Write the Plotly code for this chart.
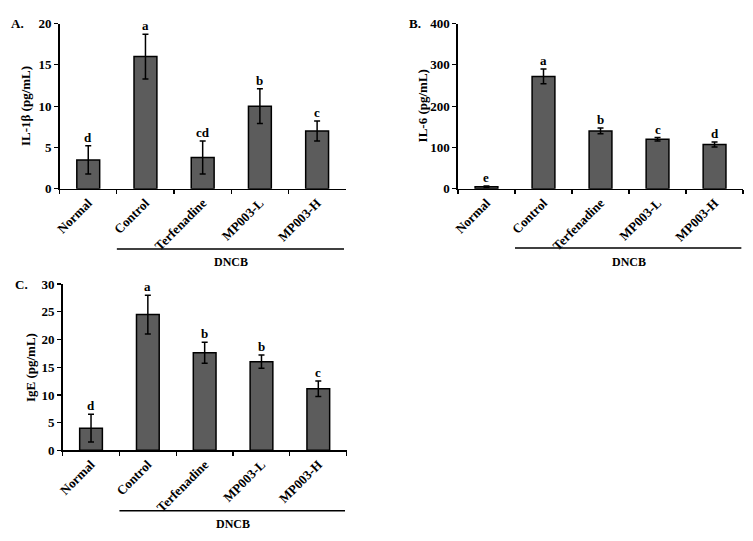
import plotly.graph_objects as go

W, H = 753, 541

categories = ["Normal", "Control", "Terfenadine", "MP003-L", "MP003-H"]

il1b_values = [3.5, 16.0, 3.8, 10.0, 7.0]
il1b_errors = [1.7, 2.7, 2.0, 2.1, 1.2]
il1b_letters = ["d", "a", "cd", "b", "c"]

il6_values = [5, 272, 140, 120, 107]
il6_errors = [2, 18, 7, 4, 6]
il6_letters = ["e", "a", "b", "c", "d"]

ige_values = [4.0, 24.5, 17.6, 16.0, 11.1]
ige_errors = [2.5, 3.5, 1.9, 1.2, 1.4]
ige_letters = ["d", "a", "b", "b", "c"]

y_ticks_a = [0, 5, 10, 15, 20]
y_ticks_b = [0, 100, 200, 300, 400]
y_ticks_c = [0, 5, 10, 15, 20, 25, 30]

FONT = "Liberation Serif"
BAR = "#5c5c5c"

def px_x(p):
    return p / W

def px_y(p):
    return 1 - p / H

panels = [
    dict(vals=il1b_values, errs=il1b_errors, letters=il1b_letters, ticks=y_ticks_a,
         title="IL-1β (pg/mL)", label="A.", xd=[55, 343], yd=[17, 187],
         line_y=249, text_y=262, label_xy=(13, 17), title_x=20),
    dict(vals=il6_values, errs=il6_errors, letters=il6_letters, ticks=y_ticks_b,
         title="IL-6 (pg/mL)", label="B.", xd=[456, 743], yd=[17, 187],
         line_y=248, text_y=262, label_xy=(413, 17), title_x=420),
    dict(vals=ige_values, errs=ige_errors, letters=ige_letters, ticks=y_ticks_c,
         title="IgE (pg/mL)", label="C.", xd=[58, 344], yd=[285, 456],
         line_y=518, text_y=532, label_xy=(17, 285), title_x=25),
]

fig = go.Figure()
layout = dict(
    width=W, height=H, margin=dict(l=0, r=0, t=0, b=0),
    plot_bgcolor="white", paper_bgcolor="white", showlegend=False,
    font=dict(family=FONT, size=13, color="black"),
)
annotations = []
shapes = []
tfont = dict(family=FONT, size=13, color="black", weight="bold")

for i, p in enumerate(panels, start=1):
    xa = "x" if i == 1 else f"x{i}"
    ya = "y" if i == 1 else f"y{i}"
    fig.add_trace(go.Bar(
        x=categories, y=p["vals"], xaxis=xa, yaxis=ya,
        marker=dict(color=BAR, line=dict(color="black", width=1.5)),
        width=0.4,
        error_y=dict(type="data", array=p["errs"], visible=True,
                     color="black", thickness=1.5, width=3),
    ))
    top = p["ticks"][-1]
    layout[f"xaxis{'' if i == 1 else i}"] = dict(
        domain=[px_x(p["xd"][0]), px_x(p["xd"][1])], anchor=ya,
        type="category", range=[-0.5, 4.5], tickson="boundaries",
        ticks="outside", ticklen=4, tickwidth=1.2, tickcolor="black",
        showline=True, linecolor="black", linewidth=1.5,
        tickangle=-45, tickfont=tfont,
        showgrid=False, fixedrange=True,
    )
    layout[f"yaxis{'' if i == 1 else i}"] = dict(
        domain=[px_y(p["yd"][1]), px_y(p["yd"][0])], anchor=xa,
        range=[0, top], tickvals=p["ticks"],
        ticks="outside", ticklen=4, tickwidth=1.2, tickcolor="black",
        showline=True, linecolor="black", linewidth=1.5,
        tickfont=tfont,
        showgrid=False, zeroline=False, fixedrange=True,
    )
    for c, v, e, l in zip(categories, p["vals"], p["errs"], p["letters"]):
        annotations.append(dict(
            x=c, y=v + e, xref=xa, yref=ya, text=f"<b>{l}</b>",
            showarrow=False, yanchor="bottom", yshift=-1,
            font=dict(family=FONT, size=13, color="black"),
        ))
    shapes.append(dict(
        type="line", xref=xa, yref="paper", x0=0.5, x1=4.47,
        y0=px_y(p["line_y"]), y1=px_y(p["line_y"]),
        line=dict(color="black", width=1.5),
    ))
    annotations.append(dict(
        x=2.5, y=px_y(p["text_y"]), xref=xa, yref="paper",
        text="<b>DNCB</b>", showarrow=False, yanchor="middle",
        font=dict(family=FONT, size=12, color="black"),
    ))
    annotations.append(dict(
        x=px_x(p["label_xy"][0]), y=px_y(p["label_xy"][1]), xref="paper", yref="paper",
        text=f"<b>{p['label']}</b>", showarrow=False, xanchor="center", yanchor="middle",
        font=dict(family=FONT, size=13, color="black"),
    ))
    annotations.append(dict(
        x=px_x(p["title_x"]), y=px_y((p["yd"][0] + p["yd"][1]) / 2),
        xref="paper", yref="paper", text=f"<b>{p['title']}</b>", textangle=-90,
        showarrow=False, xanchor="center", yanchor="middle",
        font=dict(family=FONT, size=13, color="black"),
    ))

layout["annotations"] = annotations
layout["shapes"] = shapes
fig.update_layout(**layout)
fig.write_html(
    "out.html",
    config={"displayModeBar": False, "staticPlot": True},
    post_script="document.body.style.margin='0';document.body.style.overflow='hidden';",
)
